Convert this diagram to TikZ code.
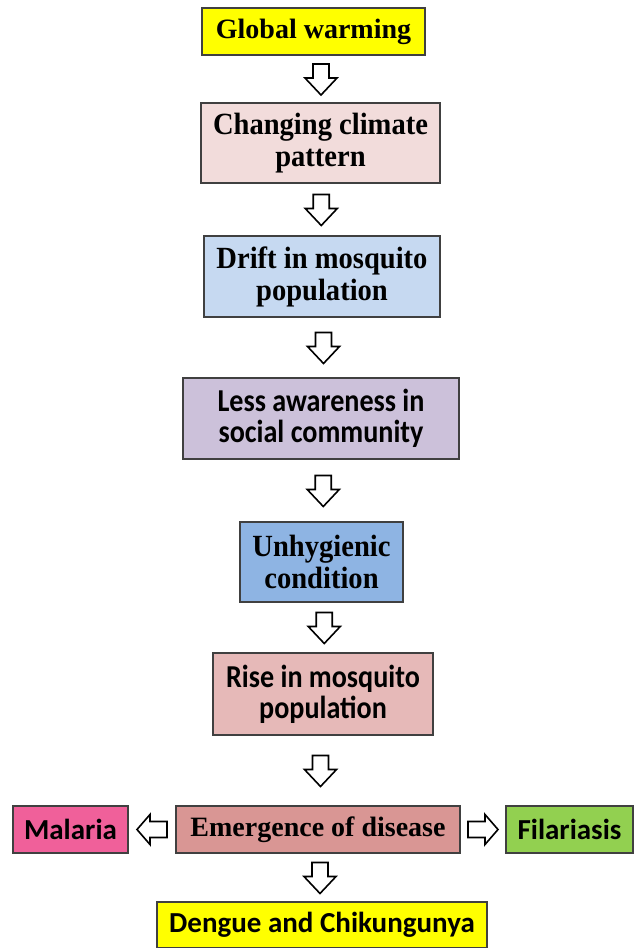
\documentclass[tikz,border=0pt]{standalone}
\usepackage{fontspec}
\usepackage{graphicx}
\setmainfont{Liberation Serif}
\setsansfont{Carlito}
\usetikzlibrary{calc}
\definecolor{cYellow}{HTML}{FFFF00}
\definecolor{cPink}{HTML}{F2DCDB}
\definecolor{cLBlue}{HTML}{C6D9F1}
\definecolor{cLav}{HTML}{CCC1DA}
\definecolor{cBlue}{HTML}{8EB4E3}
\definecolor{cRose}{HTML}{E6B9B8}
\definecolor{cBrown}{HTML}{D99694}
\definecolor{cMal}{HTML}{F0609A}
\definecolor{cGreen}{HTML}{92D050}
\definecolor{cBorder}{HTML}{404040}
\newcommand\myvsr[1]{\scalebox{1.02}[1.1]{#1}}
\newcommand\myvss[1]{\scalebox{0.97}[1.1]{#1}}
\newcommand\myserif{\fontsize{28}{32}\selectfont\lineskiplimit=-30pt\relax\rmfamily\bfseries}
\newcommand\mysans{\fontsize{29}{31}\selectfont\lineskiplimit=-30pt\relax\sffamily\bfseries}
\tikzset{
  box/.style={draw=cBorder, line width=1.3pt, rectangle, inner sep=0pt, align=center, text=black},
  serifbox/.style={box, font=\myserif},
  sansbox/.style={box, font=\mysans},
  arrowline/.style={draw=black, line width=1.6pt, fill=white, line join=miter},
  darrow/.pic={\path[arrowline] (-8,-15) -- (8,-15) -- (8,-1) -- (16,-1) -- (0,16) -- (-16,-1) -- (-8,-1) -- cycle;},
  larrow/.pic={\path[arrowline] (15,-8) -- (15,8) -- (-2,8) -- (-2,15) -- (-15,0) -- (-2,-15) -- (-2,-8) -- cycle;},
  rarrow/.pic={\path[arrowline] (-15,-8) -- (-15,8) -- (2,8) -- (2,15) -- (15,0) -- (2,-15) -- (2,-8) -- cycle;}
}
\begin{document}
\begin{tikzpicture}[x=1pt, y=-1pt]
\useasboundingbox (0,0) rectangle (637,948);
\node[serifbox, fill=cYellow, minimum width=223pt, minimum height=47pt] (n1) at (313.5,31.5) {Global warming};
\node[serifbox, fill=cPink, minimum width=239pt, minimum height=80pt] (n2) at (320.5,143) {\myvsr{Changing climate}\\\myvsr{pattern}};
\node[serifbox, fill=cLBlue, minimum width=236pt, minimum height=81pt] (n3) at (322,276.5) {\myvsr{Drift in mosquito}\\\myvsr{population}};
\node[sansbox, fill=cLav, minimum width=276pt, minimum height=81pt] (n4) at (321,418.5) {\myvss{Less awareness in}\\\myvss{social community}};
\node[serifbox, fill=cBlue, minimum width=163pt, minimum height=80pt] (n5) at (321.5,562) {\myvsr{Unhygienic}\\\myvsr{condition}};
\node[sansbox, fill=cRose, minimum width=220pt, minimum height=82pt] (n6) at (323,694) {\myvss{Rise in mosquito}\\\myvss{population}};
\node[serifbox, fill=cBrown, minimum width=284pt, minimum height=47pt] (n7) at (318,829.5) {Emergence of disease};
\node[sansbox, fill=cMal, minimum width=115pt, minimum height=47pt] (mal) at (70.5,829.5) {Malaria};
\node[sansbox, fill=cGreen, minimum width=127pt, minimum height=47pt] (fil) at (569.5,829.5) {Filariasis};
\node[sansbox, fill=cYellow, minimum width=330pt, minimum height=46pt] (deng) at (322,925) {Dengue and Chikungunya};
\path ($(n1.south)!0.5!(n2.north)$) +(4,0) pic {darrow};
\path ($(n2.south)!0.5!(n3.north)$) pic {darrow};
\path ($(n3.south)!0.5!(n4.north)$) +(2,0) pic {darrow};
\path ($(n4.south)!0.5!(n5.north)$) +(2,0) pic {darrow};
\path ($(n5.south)!0.5!(n6.north)$) +(2,0) pic {darrow};
\path ($(n6.south)!0.5!(n7.north)$) pic {darrow};
\path ($(n7.south)!0.5!(deng.north)$) pic {darrow};
\path ($(mal.east)!0.5!(n7.west)$) pic {larrow};
\path ($(n7.east)!0.5!(fil.west)$) pic {rarrow};
\end{tikzpicture}
\end{document}
